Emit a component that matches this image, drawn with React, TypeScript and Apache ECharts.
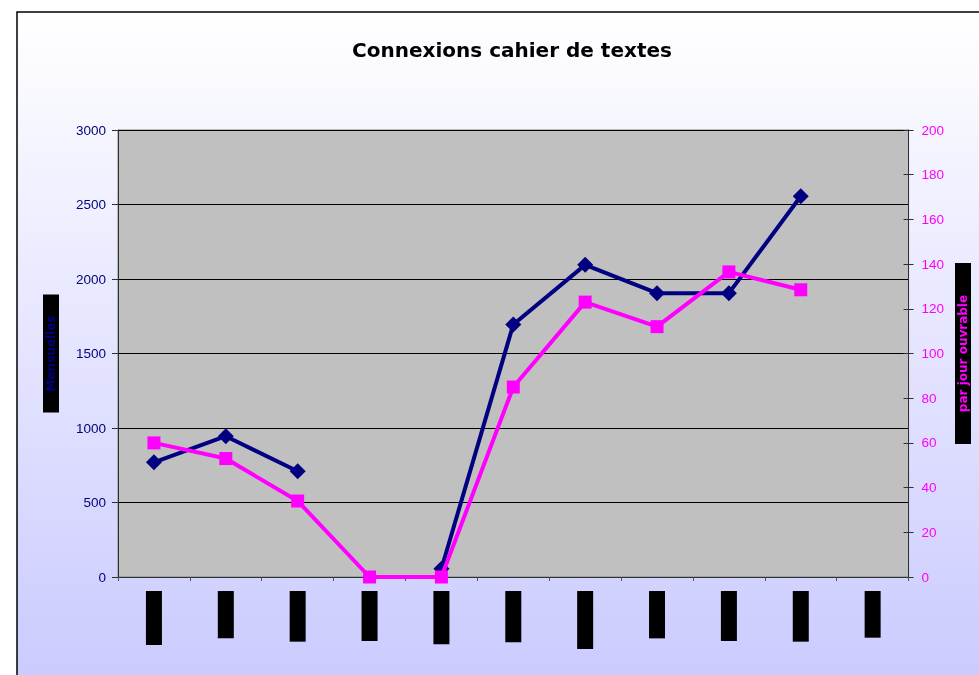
import React, { useEffect, useRef } from "react";
import * as echarts from "echarts";

const title = "Connexions cahier de textes";
const months = ["sept-06", "oct-06", "nov-06", "déc-06", "janv-07", "févr-07", "mars-07", "avr-07", "mai-07", "juin-07", "juil-07"];
const monthly = [770, 945, 710, null, 55, 1695, 2095, 1905, 1905, 2555, null];
const perDay = [60, 53, 34, 0, 0, 85, 123, 112, 136.5, 128.5, null];
const leftName = "Mensuelles";
const rightName = "par jour ouvrable";

export default function App() {
  const ref = useRef<HTMLDivElement>(null);
  useEffect(() => {
    if (!ref.current) return;
    const chart = echarts.init(ref.current, null, { renderer: "svg" });
    const font = "'Liberation Sans', Arial, sans-serif";
    chart.setOption({
      animation: false,
      textStyle: { fontFamily: font },
      graphic: [
        {
          type: "rect",
          z: -10,
          shape: { x: 17, y: 12, width: 1000, height: 700 },
          style: {
            fill: new echarts.graphic.LinearGradient(0, 0, 0, 1, [
              { offset: 0, color: "#ffffff" },
              { offset: 1, color: "#c8c8ff" },
            ]),
            stroke: "#000",
            lineWidth: 1.5,
          },
        },
      ],
      title: {
        text: title,
        left: 507,
        top: 35,
        textAlign: "center",
        textStyle: { fontFamily: "'DejaVu Sans', sans-serif", fontWeight: "bold", fontSize: 20, color: "#000" },
      },
      grid: {
        left: 118,
        top: 130,
        width: 792,
        height: 447,
        show: true,
        backgroundColor: "#c0c0c0",
        borderColor: "#808080",
        borderWidth: 1,
      },
      xAxis: {
        type: "category",
        data: months,
        boundaryGap: true,
        axisLine: { lineStyle: { color: "#303030", width: 1 } },
        axisTick: { show: true, length: 4, lineStyle: { color: "#505050" } },
        axisLabel: {
          rotate: 90,
          margin: 14,
          interval: 0,
          color: "#000",
          backgroundColor: "#000",
          fontWeight: "bold",
          fontSize: 12,
          lineHeight: 14,
          padding: [1, 6],
        },
      },
      yAxis: [
        {
          type: "value",
          position: "left",
          min: 0,
          max: 3000,
          interval: 500,
          name: leftName,
          nameLocation: "middle",
          nameRotate: 90,
          nameGap: 59,
          nameTextStyle: {
            color: "#000080",
            backgroundColor: "#000",
            fontFamily: "'DejaVu Sans', sans-serif",
            fontWeight: "bold",
            fontSize: 12,
            lineHeight: 14,
            padding: [1, 21],
          },
          axisLine: { show: true, lineStyle: { color: "#303030" } },
          axisTick: { show: true, length: 6, lineStyle: { color: "#303030" } },
          axisLabel: { color: "#000080", fontSize: 13.5, margin: 12, formatter: (v: number) => String(v) },
          splitLine: { show: true, lineStyle: { color: "#000", width: 1 } },
        },
        {
          type: "value",
          position: "right",
          min: 0,
          max: 200,
          interval: 20,
          name: rightName,
          nameLocation: "middle",
          nameRotate: 90,
          nameGap: 44,
          nameTextStyle: {
            color: "#ff00ff",
            backgroundColor: "#000",
            fontFamily: "'DejaVu Sans', sans-serif",
            fontWeight: "bold",
            fontSize: 12,
            lineHeight: 14,
            padding: [1, 32],
          },
          axisLine: { show: true, lineStyle: { color: "#303030" } },
          axisTick: { show: true, length: 5, lineStyle: { color: "#303030" } },
          axisLabel: { color: "#ff00ff", fontSize: 13.5, margin: 13, formatter: (v: number) => String(v) },
          splitLine: { show: false },
        },
        {
          type: "value",
          position: "right",
          min: 0,
          max: 200,
          interval: 20,
          axisLine: { show: false },
          axisTick: { show: true, inside: true, length: 5, lineStyle: { color: "#303030" } },
          axisLabel: { show: false },
          splitLine: { show: false },
        },
      ],
      series: [
        {
          type: "line",
          yAxisIndex: 0,
          data: monthly,
          connectNulls: false,
          symbol: "diamond",
          symbolSize: 16,
          lineStyle: { color: "#000080", width: 4 },
          itemStyle: { color: "#000080" },
          z: 2,
        },
        {
          type: "line",
          yAxisIndex: 1,
          data: perDay,
          connectNulls: false,
          symbol: "rect",
          symbolSize: 13,
          lineStyle: { color: "#ff00ff", width: 4 },
          itemStyle: { color: "#ff00ff" },
          z: 3,
        },
      ],
    });
    return () => chart.dispose();
  }, []);
  return (
    <div
      ref={ref}
      style={{ position: "fixed", left: 0, top: 0, width: 979, height: 675 }}
    />
  );
}
